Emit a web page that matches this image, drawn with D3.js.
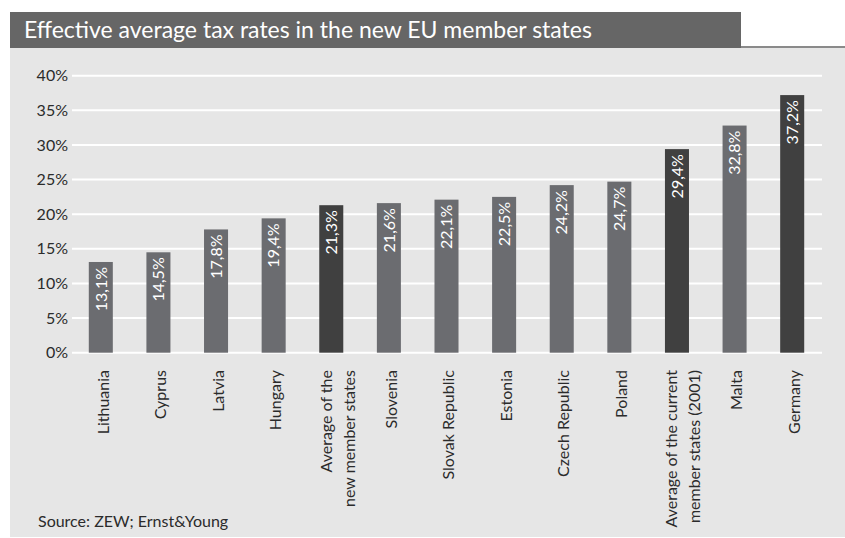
<!DOCTYPE html>
<html>
<head>
<meta charset="utf-8">
<script src="https://cdn.jsdelivr.net/npm/d3@7"></script>
<style>
  html, body { margin: 0; padding: 0; background: #ffffff; }
  svg { display: block; }
  text { font-family: Lato, "Open Sans", sans-serif; }
</style>
</head>
<body>
<svg id="chart" width="845" height="538"></svg>
<script>
// Effective average tax rates (%), in display order
const categories = [
  "Lithuania", "Cyprus", "Latvia", "Hungary",
  "Average of the\nnew member states",
  "Slovenia", "Slovak Republic", "Estonia", "Czech Republic", "Poland",
  "Average of the current\nmember states (2001)",
  "Malta", "Germany"
];
const rates = [13.1, 14.5, 17.8, 19.4, 21.3, 21.6, 22.1, 22.5, 24.2, 24.7, 29.4, 32.8, 37.2];
const highlighted = [false, false, false, false, true, false, false, false, false, false, true, false, true];
const yTicks = [0, 5, 10, 15, 20, 25, 30, 35, 40];
const titleText = "Effective average tax rates in the new EU member states";
const sourceText = "Source: ZEW; Ernst&Young";

const svg = d3.select("#chart");
const W = 845, H = 538;

// panel background
svg.append("rect").attr("x", 10).attr("y", 48).attr("width", W - 10).attr("height", 489)
  .attr("fill", "#e6e6e6");
// rule under the title strip
svg.append("rect").attr("x", 10).attr("y", 46).attr("width", W - 10).attr("height", 2)
  .attr("fill", "#8a8a8a");
// title strip
svg.append("rect").attr("x", 10).attr("y", 12).attr("width", 731).attr("height", 36)
  .attr("fill", "#666666");
svg.append("text").attr("x", 24).attr("y", 38)
  .attr("fill", "#ffffff").attr("font-size", 23)
  .text(titleText);

const x = d3.scaleBand()
  .domain(d3.range(categories.length))
  .range([72, 821])
  .paddingInner(0.583)
  .paddingOuter(0.2915);

const y = d3.scaleLinear().domain([0, 40]).range([352.7, 75.7]);

// horizontal gridlines
svg.append("g").selectAll("line").data(yTicks).join("line")
  .attr("x1", 72).attr("x2", 822)
  .attr("y1", d => y(d)).attr("y2", d => y(d))
  .attr("stroke", "#ffffff").attr("stroke-width", 2);

// y axis labels
const yAxis = d3.axisLeft(y).tickValues(yTicks).tickFormat(d => d + "%").tickSize(0).tickPadding(0);
const yg = svg.append("g").attr("transform", "translate(68,0)").call(yAxis);
yg.select(".domain").remove();
yg.selectAll("text").attr("font-size", 16).attr("fill", "#2b2b2b")
  .attr("font-family", "Lato, 'Open Sans', sans-serif");

// bars
svg.append("g").selectAll("rect").data(rates).join("rect")
  .attr("x", (d, i) => x(i))
  .attr("width", x.bandwidth())
  .attr("y", d => y(d))
  .attr("height", d => y(0) - y(d))
  .attr("fill", (d, i) => highlighted[i] ? "#404040" : "#6b6c70");

// value labels inside bars, reading upward
svg.append("g").selectAll("text").data(rates).join("text")
  .attr("transform", (d, i) => `translate(${x(i) + x.bandwidth() / 2},${y(d) + 5}) rotate(-90)`)
  .attr("text-anchor", "end")
  .attr("dy", "0.36em")
  .attr("font-size", 16)
  .attr("fill", "#ffffff")
  .text(d => d.toFixed(1).replace(".", ",") + "%");

// category labels below the axis
const xl = svg.append("g").selectAll("text").data(categories).join("text")
  .attr("transform", (d, i) => `translate(${x(i) + x.bandwidth() / 2 + 2},370) rotate(-90)`)
  .attr("text-anchor", "end")
  .attr("font-size", 16)
  .attr("fill", "#2b2b2b");
xl.each(function(d) {
  const lines = d.split("\n");
  const t = d3.select(this);
  lines.forEach((ln, k) => {
    const off = lines.length === 1 ? 0 : (k === 0 ? -7.5 : 15.5);
    t.append("tspan").attr("x", 0).attr("y", off).attr("dy", "0.36em").text(ln);
  });
});

// source note
svg.append("text").attr("x", 38).attr("y", 527)
  .attr("font-size", 16).attr("fill", "#2b2b2b")
  .text(sourceText);
</script>
</body>
</html>
